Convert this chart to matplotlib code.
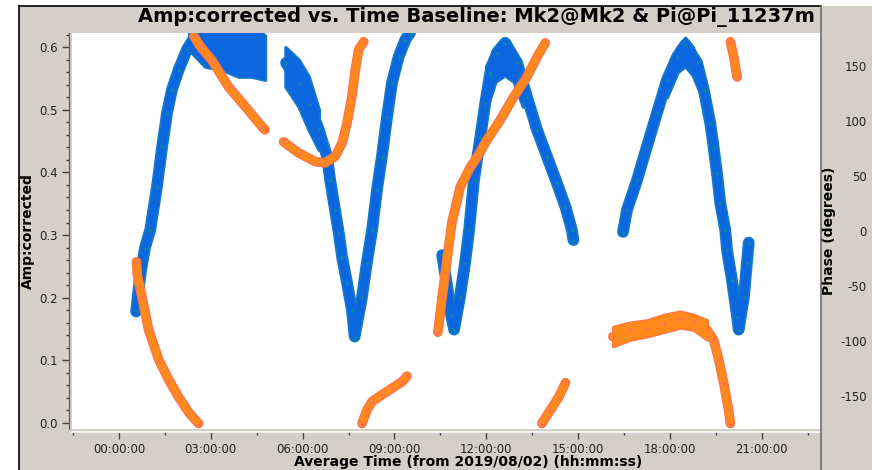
import numpy as np
import matplotlib
matplotlib.use('Agg')
import matplotlib.pyplot as plt
from matplotlib.lines import Line2D
from matplotlib.patches import Rectangle
from matplotlib.ticker import MultipleLocator, FixedLocator, FuncFormatter

plt.rcParams['font.family'] = ['DejaVu Sans']
plt.rcParams['axes.unicode_minus'] = False

# --- amplitude tracks: time in hours from 2019/08/02 00:00, amplitude ---
amp1_t = [0.56, 0.62, 0.72, 0.85, 1.02, 1.24, 1.41, 1.57, 1.73, 1.95, 2.22, 2.48]
amp1_v = [0.178, 0.205, 0.244, 0.280, 0.308, 0.377, 0.441, 0.495, 0.532, 0.564, 0.596, 0.617]
# wide cloud at the top of the first scan (upper edge runs off the plot)
cloud1_t = [2.30, 2.81, 3.36, 3.90, 4.33, 4.77]
cloud1_lo = [0.595, 0.569, 0.564, 0.553, 0.553, 0.548]
cloud1_hi = [0.640, 0.640, 0.640, 0.640, 0.640, 0.618]

amp2_t = [5.46, 5.87, 6.20, 6.53, 6.80, 6.90, 7.06, 7.18, 7.29, 7.45, 7.61, 7.70,
          7.94, 8.10, 8.27, 8.43, 8.59, 8.76, 8.92, 9.14, 9.36, 9.51]
amp2_v = [0.575, 0.543, 0.510, 0.468, 0.425, 0.388, 0.340, 0.304, 0.265, 0.224, 0.181, 0.138,
          0.201, 0.256, 0.308, 0.372, 0.425, 0.489, 0.543, 0.585, 0.612, 0.623]
cloud2_t = [5.44, 5.87, 6.20, 6.53]
cloud2_lo = [0.537, 0.505, 0.468, 0.436]
cloud2_hi = [0.600, 0.580, 0.553, 0.500]

amp3_t = [10.56, 10.72, 10.85, 10.95, 11.14, 11.31, 11.44, 11.60, 11.81, 11.97, 12.13, 12.35, 12.62,
          13.01, 13.33, 13.66, 13.99, 14.31, 14.59, 14.80, 14.85]
amp3_v = [0.268, 0.220, 0.173, 0.149, 0.201, 0.256, 0.308, 0.388, 0.457, 0.511, 0.559, 0.591, 0.607,
          0.575, 0.521, 0.468, 0.425, 0.383, 0.345, 0.308, 0.292]
cloud3_t = [12.0, 12.3, 12.6, 12.9, 13.2]
cloud3_lo = [0.500, 0.545, 0.555, 0.545, 0.505]
cloud3_hi = [0.570, 0.600, 0.612, 0.595, 0.550]

amp4_t = [16.47, 16.60, 16.93, 17.25, 17.58, 17.91, 18.24, 18.51, 18.89, 19.11, 19.32, 19.43, 19.54,
          19.65, 19.81, 19.87, 20.03, 20.20, 20.25, 20.42, 20.52, 20.58]
amp4_v = [0.305, 0.340, 0.388, 0.441, 0.495, 0.548, 0.585, 0.604, 0.575, 0.532, 0.479, 0.441, 0.399,
          0.351, 0.308, 0.276, 0.228, 0.169, 0.149, 0.201, 0.256, 0.288]
cloud4_t = [17.9, 18.25, 18.5, 18.75, 19.05]
cloud4_lo = [0.520, 0.560, 0.570, 0.555, 0.520]
cloud4_hi = [0.560, 0.600, 0.615, 0.600, 0.560]

# --- phase tracks (degrees), split where they wrap at +/-180 ---
ph1a_t = [0.57, 0.60, 0.75, 0.97, 1.30, 1.62, 1.95, 2.28, 2.60]
ph1a_v = [-28, -40, -60, -90, -117, -135, -151, -165, -175]
ph1b_t = [2.45, 2.65, 3.04, 3.58, 4.13, 4.67, 4.77]
ph1b_v = [177, 168, 155, 131, 113, 95, 92]

ph2a_t = [5.38, 5.87, 6.42, 6.74, 7.07, 7.29, 7.45, 7.61, 7.72, 7.83, 8.00]
ph2a_v = [81, 71, 63, 62, 68, 80, 98, 122, 146, 165, 172]
ph2b_t = [7.94, 8.10, 8.27, 8.59, 8.92, 9.25, 9.41]
ph2b_v = [-175, -163, -155, -149, -143, -137, -132]

ph3a_t = [10.42, 10.56, 10.66, 10.78, 10.88, 11.15, 11.48, 11.70, 12.03, 12.46, 12.90, 13.33, 13.66, 13.93]
ph3a_v = [-92, -60, -38, -13, 8, 40, 58, 67, 83, 101, 122, 140, 158, 171]
ph3b_t = [13.82, 14.09, 14.37, 14.59]
ph3b_v = [-175, -163, -151, -138]

ph4a_t = [16.14, 16.71, 17.25, 17.80, 18.34, 18.78, 19.22, 19.43, 19.60, 19.76, 19.92, 19.98]
ph4a_v = [-96, -90, -88, -84, -80, -83, -90, -99, -117, -138, -163, -175]
# the flat part of the last scan is a broad band
band4_t = [16.14, 16.71, 17.25, 17.80, 18.34, 18.78, 19.22]
band4_lo = [-105, -99, -96, -92, -88, -90, -99]
band4_hi = [-87, -83, -81, -76, -73, -76, -81]
ph4b_t = [19.98, 20.09, 20.20]
ph4b_v = [172, 158, 140]

x_major = [0, 3, 6, 9, 12, 15, 18, 21]
x_minor = [-1.5, 1.5, 4.5, 7.5, 10.5, 13.5, 16.5, 19.5, 22.5]
phase_ticks = [-150, -100, -50, 0, 50, 100, 150]

BLUE = '#0b67e0'
BLUE_EDGE = '#1579c4'
TEAL = '#0a8c98'
ORANGE = '#ff8a1c'
ORANGE_EDGE = '#ff7448'
SALMON = '#ff6f5c'
PANEL = '#d4d0c8'

W, H = 872, 470
fig = plt.figure(figsize=(W / 100, H / 100), dpi=100, facecolor='white')

# grey panel with the dark frame on top/left
fig.patches.append(Rectangle((19 / W, 0), 1 - 19 / W, 1 - 6 / H, transform=fig.transFigure,
                             facecolor=PANEL, edgecolor='none', zorder=-10))
fig.add_artist(Line2D([19 / W, 821 / W], [1 - 6 / H, 1 - 6 / H], transform=fig.transFigure,
                      color='black', lw=1.2))
fig.add_artist(Line2D([19 / W, 19 / W], [0, 1 - 6 / H], transform=fig.transFigure,
                      color='black', lw=1.2))
fig.add_artist(Line2D([821 / W, 821 / W], [0, 1 - 6 / H], transform=fig.transFigure,
                      color='#6e6e6e', lw=1.2))

ax = fig.add_axes([72 / W, 1 - 429 / H, (821 - 72) / W, (429 - 33) / H])
ax.set_facecolor('white')
ax.set_xlim(-1.536, 22.94)
ax.set_ylim(-0.0096, 0.6226)

ROUND = dict(solid_capstyle='round', solid_joinstyle='round')

# amplitude: wide edge pass first, then the core, so clouds and tracks merge
amp_sets = [(amp1_t, amp1_v), (amp2_t, amp2_v), (amp3_t, amp3_v), (amp4_t, amp4_v)]
cloud_sets = [(cloud1_t, cloud1_lo, cloud1_hi), (cloud2_t, cloud2_lo, cloud2_hi),
              (cloud3_t, cloud3_lo, cloud3_hi), (cloud4_t, cloud4_lo, cloud4_hi)]
for t, v in amp_sets:
    ax.plot(t, v, color=BLUE_EDGE, lw=8.5, zorder=2, **ROUND)
for t, lo, hi in cloud_sets:
    ax.fill_between(t, lo, hi, color=BLUE_EDGE, lw=2.5, zorder=2)
for t, v in amp_sets:
    ax.plot(t, v, color=BLUE, lw=6.0, zorder=3, **ROUND)
for t, lo, hi in cloud_sets:
    ax.fill_between(t, lo, hi, color=BLUE, lw=0, zorder=3)
for t, v in amp_sets:
    ax.plot(t, v, '+', color=TEAL, ms=3.5, mew=0.9, zorder=4)

# left axis styling
for s in ['top', 'right']:
    ax.spines[s].set_visible(False)
ax.spines['left'].set_position(('outward', 2))
ax.spines['left'].set_color('#555555')
ax.spines['bottom'].set_position(('outward', 2))
ax.spines['bottom'].set_color('#f4f4f4')
ax.spines['bottom'].set_linewidth(1.5)
ax.yaxis.set_major_locator(MultipleLocator(0.1))
ax.yaxis.set_minor_locator(MultipleLocator(0.02))
ax.yaxis.set_major_formatter(FuncFormatter(lambda v, _: f'{v:.1f}'))
ax.xaxis.set_major_locator(FixedLocator(x_major))
ax.xaxis.set_minor_locator(FixedLocator(x_minor))
ax.xaxis.set_major_formatter(FuncFormatter(lambda v, _: f'{int(round(v)):02d}:00:00'))
ax.tick_params(axis='both', which='major', direction='out', length=5, width=1,
               color='#444444', labelsize=8.5, labelcolor='#222222', pad=3)
ax.tick_params(axis='both', which='minor', direction='out', length=2.5, width=1, color='#444444')

ax.set_ylabel('Amp:corrected', fontsize=10, fontweight='bold')
ax.yaxis.label.set_va('center')
ax.yaxis.set_label_coords((28 - 72) / (821 - 72), 0.5)
ax.set_xlabel('Average Time (from 2019/08/02) (hh:mm:ss)', fontsize=10, fontweight='bold')
ax.xaxis.label.set_va('center')
ax.xaxis.set_label_coords((468.5 - 72) / (821 - 72), (429 - 462) / (429 - 33))

# phase on the right-hand axis
ax2 = ax.twinx()
ax2.set_ylim(-180, 180)
for s in ax2.spines.values():
    s.set_visible(False)

phase_sets = [(ph1a_t, ph1a_v), (ph1b_t, ph1b_v), (ph2a_t, ph2a_v), (ph2b_t, ph2b_v),
              (ph3a_t, ph3a_v), (ph3b_t, ph3b_v), (ph4a_t, ph4a_v), (ph4b_t, ph4b_v)]
for t, v in phase_sets:
    ax2.plot(t, v, color=ORANGE_EDGE, lw=7.0, zorder=2, **ROUND)
ax2.fill_between(band4_t, band4_lo, band4_hi, color=ORANGE_EDGE, lw=2.0, zorder=2)
for t, v in phase_sets:
    ax2.plot(t, v, color=ORANGE, lw=4.8, zorder=3, **ROUND)
ax2.fill_between(band4_t, band4_lo, band4_hi, color=ORANGE, lw=0, zorder=3)
for t, v in phase_sets:
    ax2.plot(t, v, '+', color=SALMON, ms=3, mew=0.8, zorder=4)

ax2.set_yticks(phase_ticks)
ax2.set_yticklabels([str(p) for p in phase_ticks])
ax2.tick_params(axis='y', length=0, labelsize=8.5, labelcolor='#222222', pad=33)
for lbl in ax2.get_yticklabels():
    lbl.set_ha('right')
ax2.set_ylabel('Phase (degrees)', fontsize=10, fontweight='bold', rotation=90)
ax2.yaxis.label.set_va('center')
ax2.yaxis.set_label_coords((829 - 72) / (821 - 72), 0.5)

fig.text(476.5 / W, 1 - 17 / H, 'Amp:corrected vs. Time Baseline: Mk2@Mk2 & Pi@Pi_11237m',
         ha='center', va='center', fontsize=14, fontweight='bold')

fig.savefig('out.png', dpi=100, facecolor='white')
